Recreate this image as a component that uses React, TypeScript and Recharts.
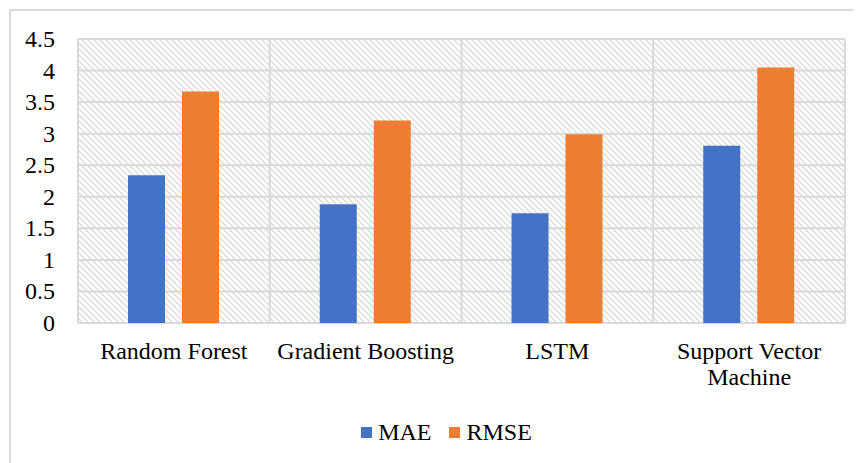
import React from "react";
import {
  BarChart, Bar, XAxis, YAxis, CartesianGrid, Legend,
} from "recharts";

const models = ["Random Forest", "Gradient Boosting", "LSTM", "Support Vector Machine"];
const mae = [2.34, 1.88, 1.74, 2.81];
const rmse = [3.67, 3.21, 2.99, 4.05];
const yTicks = [0, 0.5, 1, 1.5, 2, 2.5, 3, 3.5, 4, 4.5];

const FONT = '"Liberation Serif", "Times New Roman", serif';
const GRID = "#d9d9d9";
const BLUE = "#4472C4";
const ORANGE = "#ED7D31";

const data = models.map((name, i) => ({ name, MAE: mae[i], RMSE: rmse[i] }));

// greedy word wrap so long names fit inside one category band
function wrap(label: string, maxChars = 18) {
  const lines: string[] = [];
  let cur = "";
  for (const w of label.split(" ")) {
    const next = cur ? cur + " " + w : w;
    if (next.length > maxChars && cur) {
      lines.push(cur);
      cur = w;
    } else {
      cur = next;
    }
  }
  if (cur) lines.push(cur);
  return lines;
}

function CategoryTick(props: any) {
  const { x, y, payload } = props;
  const lines = wrap(String(payload.value));
  return (
    <text x={x} y={y} textAnchor="middle" fill="#000" fontFamily={FONT} fontSize={24} style={{ fontSize: 24, fontFamily: FONT }}>
      {lines.map((l, i) => (
        <tspan key={i} x={x} dy={i === 0 ? 17 : 26}>{l}</tspan>
      ))}
    </text>
  );
}

function ValueTick(props: any) {
  const { x, y, payload } = props;
  return (
    <text x={x} y={y} dy={8} textAnchor="end" fill="#000" fontFamily={FONT} fontSize={24} style={{ fontSize: 24, fontFamily: FONT }}>
      {payload.value}
    </text>
  );
}

function LegendContent() {
  const items = [
    { label: "MAE", color: BLUE },
    { label: "RMSE", color: ORANGE },
  ];
  return (
    <div
      style={{
        height: 30,
        display: "flex",
        justifyContent: "center",
        alignItems: "center",
        paddingLeft: 40,
        fontFamily: FONT,
        fontSize: 24,
        color: "#000",
      }}
    >
      {items.map((it, i) => (
        <div key={it.label} style={{ display: "flex", alignItems: "center", marginLeft: i ? 18 : 0 }}>
          <span style={{ width: 11, height: 11, background: it.color, marginRight: 6, display: "inline-block" }} />
          <span style={{ lineHeight: "30px" }}>{it.label}</span>
        </div>
      ))}
    </div>
  );
}

export default function App() {
  return (
    <div style={{ position: "relative", width: 853, height: 455, fontFamily: FONT }}>
      <div
        style={{
          position: "absolute",
          left: 1,
          top: 1,
          width: 852,
          height: 454,
          boxSizing: "border-box",
          borderLeft: `2px solid ${GRID}`,
          borderTop: `2px solid ${GRID}`,
        }}
      />
      <div style={{ position: "absolute", left: 0, top: 0 }}>
        <BarChart
          width={853}
          height={455}
          data={data}
          margin={{ top: 31, right: 16, left: 0, bottom: 16 }}
          barSize={37}
          barGap={17}
        >
          <defs>
            <pattern id="hatch" width="6" height="6" patternUnits="userSpaceOnUse">
              <rect width="6" height="6" fill="#fff" />
              <path d="M0,0 L6,6 M-1.5,4.5 L1.5,7.5 M4.5,-1.5 L7.5,1.5" stroke="#dddddd" strokeWidth={1.5} />
            </pattern>
          </defs>
          <CartesianGrid
            stroke={GRID}
            strokeWidth={2}
            fill="url(#hatch)"
            fillOpacity={1}
            verticalCoordinatesGenerator={({ offset }: any) =>
              models.map((_, i) => offset.left + (i * offset.width) / models.length).concat(offset.left + offset.width)
            }
          />
          <XAxis
            dataKey="name"
            axisLine={false}
            tickLine={false}
            tickSize={0}
            tickMargin={19}
            height={94}
            interval={0}
            tick={(p: any) => <CategoryTick {...p} />}
          />
          <YAxis
            domain={[0, 4.5]}
            ticks={yTicks}
            interval={0}
            width={70}
            axisLine={false}
            tickLine={false}
            tickSize={0}
            tickMargin={23}
            tick={(p: any) => <ValueTick {...p} />}
          />
          <Legend verticalAlign="bottom" content={<LegendContent />} />
          <Bar dataKey="MAE" fill={BLUE} isAnimationActive={false} />
          <Bar dataKey="RMSE" fill={ORANGE} isAnimationActive={false} />
        </BarChart>
      </div>
    </div>
  );
}
